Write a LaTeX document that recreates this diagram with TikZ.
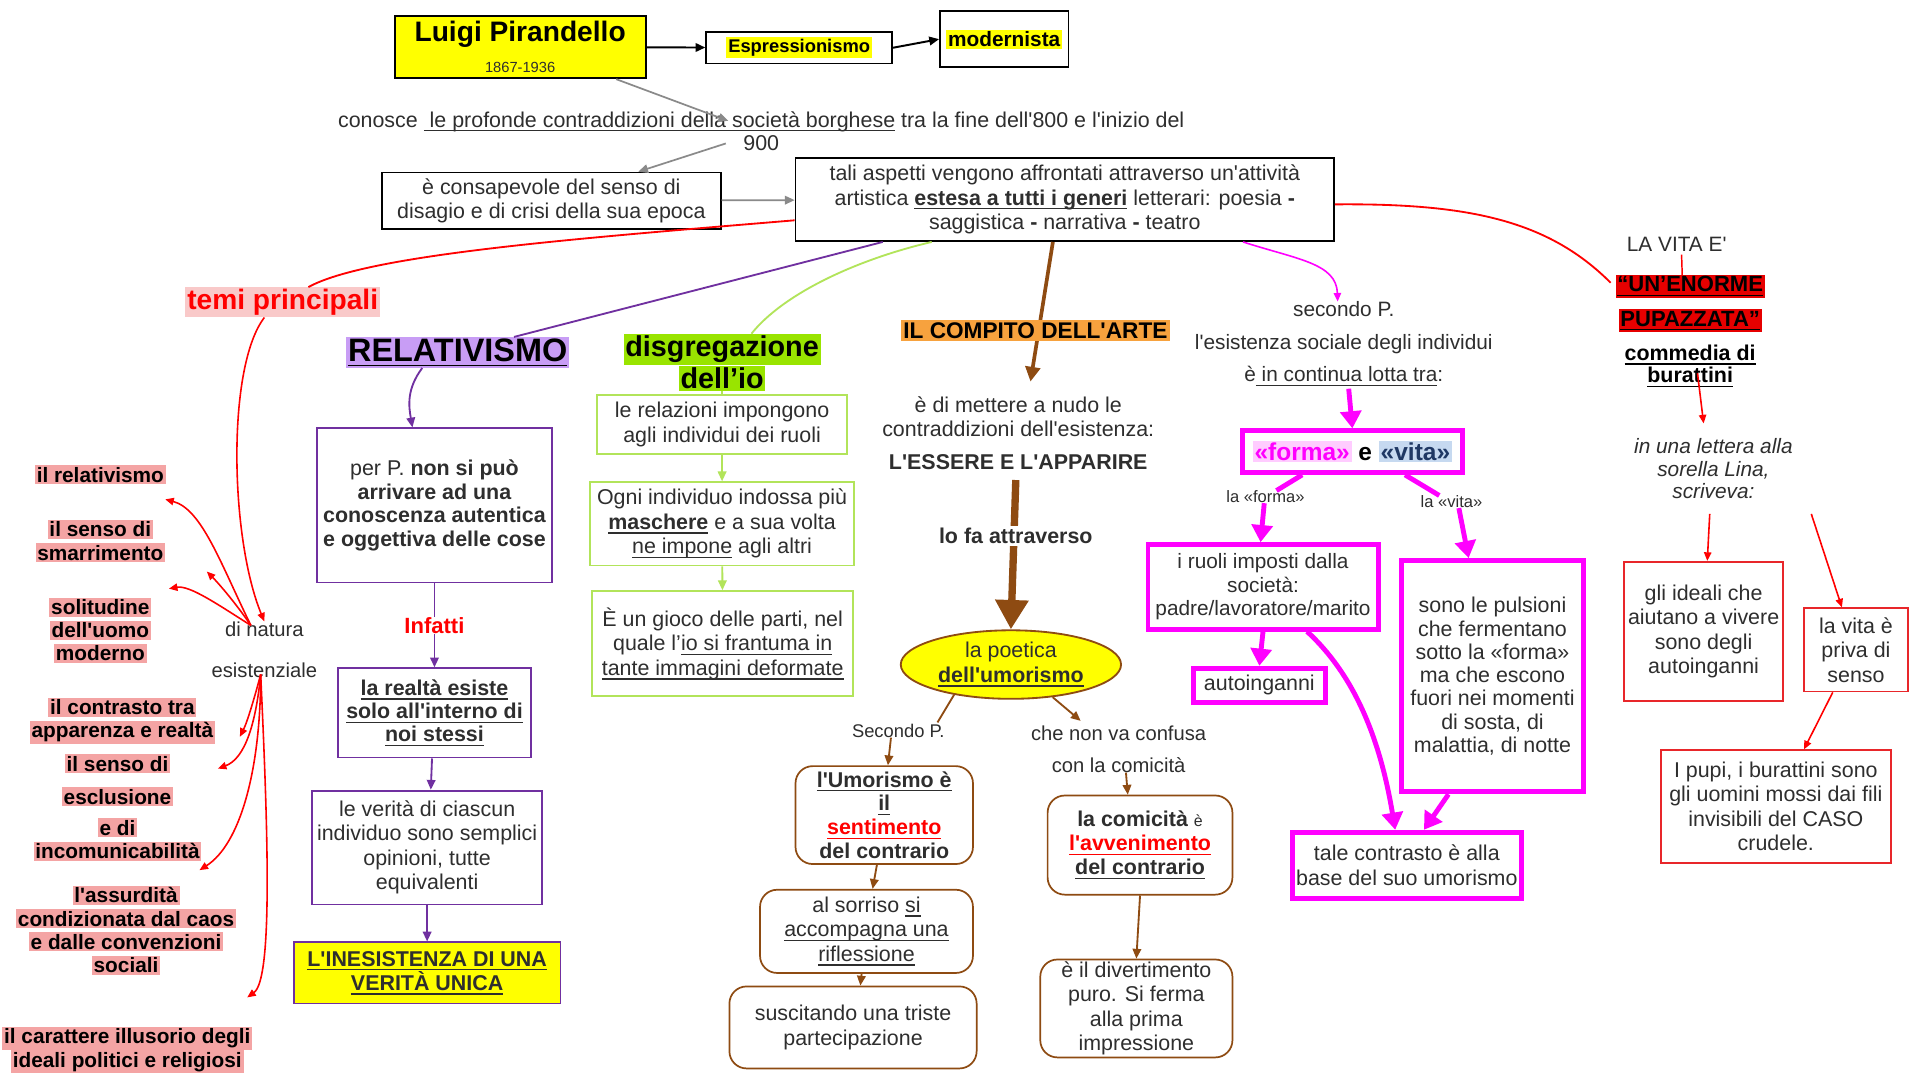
\documentclass[tikz,border=0pt]{standalone}
\usepackage{fontspec}
\setmainfont{Liberation Sans}[Ligatures=TeXOff]
\usetikzlibrary{arrows.meta,shapes.geometric,calc}
\definecolor{txt}{HTML}{2E2E2E}
\definecolor{gry}{HTML}{8A8A8A}
\definecolor{purp}{HTML}{7030A0}
\definecolor{lav}{HTML}{C89DF5}
\definecolor{lgreen}{HTML}{B2E45A}
\definecolor{dgreen}{HTML}{99E400}
\definecolor{orng}{HTML}{F7A23E}
\definecolor{brn}{HTML}{8E4B12}
\definecolor{mag}{HTML}{FF00FF}
\definecolor{fpink}{HTML}{FFCCFF}
\definecolor{vblue}{HTML}{C6D9F0}
\definecolor{navy}{HTML}{1F3864}
\definecolor{pkitem}{HTML}{F4A4A4}
\definecolor{pktemi}{HTML}{F9C9C9}
\definecolor{rd}{HTML}{FF0000}
\definecolor{rbox}{HTML}{E8262A}
\definecolor{enred}{HTML}{E60000}
\definecolor{yel}{HTML}{FFFF00}
\setlength{\fboxsep}{1.5pt}
\newcommand{\fsz}[2]{\fontsize{#1}{#2}\selectfont}
\newcommand{\pkh}[1]{\colorbox{pkitem}{#1}}
\newcommand{\uline}[1]{\leavevmode\setbox0\hbox{#1}\rlap{\vrule height -2.4pt depth 3.5pt width \wd0}\box0\relax}
\begin{document}
\begin{tikzpicture}[x=1pt,y=-1pt,
  every node/.style={text=txt, align=center, inner sep=0pt, font=\fsz{17.5}{20}},
  bbox/.style={draw=black, line width=1.4pt, fill=white},
  pbox/.style={draw=purp, line width=1.5pt, fill=white},
  gbox/.style={draw=lgreen, line width=1.5pt, fill=white},
  rbx/.style={draw=brn, line width=1.4pt, rounded corners=14pt, fill=white},
  mbox/.style={draw=mag, line width=4pt, fill=white},
  redbox/.style={draw=rbox, line width=1.4pt, fill=white},
  lit/.style={font=\fsz{17}{19}\bfseries, text=black},
  ga/.style={draw=gry, line width=1.4pt, -{Triangle[length=8pt,width=7pt]}},
  ka/.style={draw=black, line width=1.6pt, -{Triangle[length=8pt,width=7pt]}},
  ra/.style={draw=rd, line width=1.3pt, -{Triangle[length=7pt,width=6pt]}},
  rl/.style={draw=rd, line width=1.5pt},
  pa/.style={draw=purp, line width=1.5pt, -{Triangle[length=8pt,width=7pt]}},
  pl/.style={draw=purp, line width=1.5pt},
  gra/.style={draw=lgreen, line width=1.5pt, -{Triangle[length=8pt,width=7pt]}},
  ba/.style={draw=brn, line width=1.5pt, -{Triangle[length=8pt,width=7pt]}},
  ma/.style={draw=mag, line width=4pt, -{Triangle[length=14pt,width=17pt]}},
  mthin/.style={draw=mag, line width=1.3pt, -{Triangle[length=7pt,width=6pt]}}
]
\fill[white] (0,0) rectangle (1568,880);
\useasboundingbox (0,0) rectangle (1568,880);

% ---------- top ----------
\node[bbox, fill=yel, minimum width=205pt, minimum height=51pt] (lp) at (425.5,38.5) {};
\node[font=\fsz{23}{26}\bfseries, text=black] (lpt) at (425,28) {Luigi Pirandello};
\node[font=\fsz{12}{14}] (lpd) at (425,55) {1867-1936};
\node[bbox, minimum width=152pt, minimum height=26pt, font=\fsz{15}{17}\bfseries, text=black] (esp) at (653,39) {\colorbox{yel}{Espressionismo}};
\node[bbox, minimum width=105pt, minimum height=46pt, font=\fsz{17}{19}\bfseries, text=black] (mod) at (820.5,32) {\colorbox{yel}{modernista}};
\node[font=\fsz{17.5}{19}] (con) at (622,107) {conosce \uline{\ le profonde contraddizioni della società borghese} tra la fine dell'800 e l'inizio del\\900};
\node[bbox, minimum width=277pt, minimum height=46pt] (cons) at (450.5,164) {è consapevole del senso di\\disagio e di crisi della sua epoca};
\node[bbox, minimum width=440pt, minimum height=68pt] (big) at (870,163) {tali aspetti vengono affrontati attraverso un'attività\\artistica \textbf{\uline{estesa a tutti i generi}} letterari: poesia \textbf{-}\\saggistica \textbf{-} narrativa \textbf{-} teatro};

\draw[ka] (lp) -- (esp);
\draw[ka] (esp.east) -- (mod.west);
\draw[ga] ([xshift=78pt]lp.south) -- ($(con.north)+(-27,8)$);
\draw[ga] ($(con.south)+(-29,-6)$) -- ([xshift=71pt]cons.north);
\draw[ga] (cons) -- (big);

% ---------- left: temi principali ----------
\node[font=\fsz{23}{25}\bfseries, text=rd] (temi) at (231,247) {\colorbox{pktemi}{temi principali}};
\node[font=\fsz{16.5}{19}] (dinat) at (216,514) {di natura};
\node[font=\fsz{16.5}{19}] (esist) at (216,548) {esistenziale};
\draw[rl] ($(big.west)+(0,17)$) .. controls (470,195) and (300,208) .. ($(temi.north)+(21,0)$);
\draw[ra] ($(temi.south)+(-15,0)$) .. controls (185,300) and (188,440) .. (dinat.north);

\node[lit] (i1) at (82,388) {\pkh{il relativismo}};
\node[lit] (i2) at (82,442) {\pkh{il senso di}\\\pkh{smarrimento}};
\node[lit] (i3) at (82,515) {\pkh{solitudine}\\\pkh{dell'uomo}\\\pkh{moderno}};
\node[lit] (i4) at (100,589) {\pkh{il contrasto tra}\\\pkh{apparenza e realtà}};
\node[lit] (i5) at (96,624) {\pkh{il senso di}};
\node[lit] (i6) at (96,651) {\pkh{esclusione}};
\node[lit] (i7) at (96,686) {\pkh{e di}\\\pkh{incomunicabilità}};
\node[lit] (i8) at (103,760) {\pkh{l'assurdità}\\\pkh{condizionata dal caos}\\\pkh{e dalle convenzioni}\\\pkh{sociali}};
\node[lit] (i9) at (104,858) {\pkh{il carattere illusorio degli}\\\pkh{ideali politici e religiosi}};

\coordinate (o1) at (205,511);
\coordinate (o2) at (213,551);
\coordinate (t1) at (135,408);
\coordinate (t2) at (169,467);
\coordinate (t3) at (138,481);
\coordinate (t4) at (196,602);
\coordinate (t5) at (178,628);
\coordinate (t6) at (163,711);
\coordinate (t7) at (202,815);
\draw[ra] (o1) .. controls (180,460) and (165,416) .. (t1);
\draw[ra] (o1) .. controls (192,492) and (178,476) .. (t2);
\draw[ra] (o1) .. controls (178,494) and (155,478) .. (t3);
\draw[ra] (o2) .. controls (208,570) and (202,590) .. (t4);
\draw[ra] (o2) .. controls (209,592) and (200,620) .. (t5);
\draw[ra] (o2) .. controls (213,630) and (196,690) .. (t6);
\draw[ra] (o2) .. controls (219,680) and (223,800) .. (t7);

% ---------- RELATIVISMO ----------
\node[font=\fsz{26.5}{30}\bfseries, text=black] (relv) at (374,288) {\colorbox{lav}{\uline{RELATIVISMO}}};
\draw[pl] ($(big.south west)+(72,0)$) -- ($(relv.north)+(46,0)$);
\node[pbox, minimum width=192pt, minimum height=126pt, font=\fsz{17.5}{19.5}] (r1) at (355,413) {per P. \textbf{non si può}\\\textbf{arrivare ad una}\\\textbf{conoscenza autentica}\\\textbf{e oggettiva delle cose}};
\draw[pa] ($(relv.south)+(-29,0)$) .. controls (332,318) and (334,332) .. ($(r1.north)+(-18,0)$);
\node[font=\fsz{18}{20}\bfseries, text=rd] (inf) at (355,511) {Infatti};
\node[pbox, minimum width=158pt, minimum height=73pt, font=\fsz{17.5}{19}\bfseries] (r2) at (355,582.5) {\uline{la realtà esiste}\\\uline{solo all'interno di}\\\uline{noi stessi}};
\node[pbox, minimum width=188pt, minimum height=93pt] (r3) at (349,692.5) {le verità di ciascun\\individuo sono semplici\\opinioni, tutte\\equivalenti};
\node[pbox, fill=yel, minimum width=218pt, minimum height=50pt, font=\fsz{17.5}{19}\bfseries] (r4) at (349,795) {\uline{L'INESISTENZA DI UNA}\\\uline{VERITÀ UNICA}};
\draw[pl] (r1.south) -- (inf.north);
\draw[pa] (inf.south) -- (r2.north);
\draw[pa] ($(r2.south)+(-2,0)$) -- ($(r3.north)+(3,0)$);
\draw[pa] (r3.south) -- (r4.north);

% ---------- disgregazione ----------
\node[font=\fsz{23.5}{24.5}\bfseries, text=black] (dis) at (590,296) {\colorbox{dgreen}{disgregazione}\\\colorbox{dgreen}{dell’io}};
\draw[lgreen, line width=1.5pt] ($(big.south west)+(112,0)$) .. controls (700,212) and (640,240) .. ($(dis.north)+(24,0)$);
\node[gbox, minimum width=204pt, minimum height=48pt] (d1) at (590,347) {le relazioni impongono\\agli individui dei ruoli};
\node[gbox, minimum width=216pt, minimum height=68pt] (d2) at (590,428) {Ogni individuo indossa più\\\textbf{\uline{maschere}} e a sua volta\\\uline{ne impone} agli altri};
\node[gbox, minimum width=213pt, minimum height=86pt] (d3) at (590.5,526) {È un gioco delle parti, nel\\quale l’\uline{io si frantuma in}\\\uline{tante immagini deformate}};
\draw[lgreen, line width=1.5pt] (dis.south) -- (d1.north);
\draw[gra] (d1) -- (d2);
\draw[gra] (d2) -- (d3);

% ---------- compito dell'arte ----------
\node (ess) at (832,354) {è di mettere a nudo le\\contraddizioni dell'esistenza:\\[7pt]\textbf{L'ESSERE E L'APPARIRE}};
\draw[brn, line width=3pt, -{Triangle[length=12pt,width=12pt]}] ($(big.south west)+(211,0)$) -- ($(ess.north)+(10,-12)$);
\node[font=\fsz{18.5}{20}\bfseries, text=black, fill=orng, inner sep=2pt] (comp) at (846,270) {IL COMPITO DELL'ARTE};
\node[ellipse, draw=brn, line width=1.5pt, fill=yel, minimum width=180pt, minimum height=56pt, inner sep=0pt] (ell) at (826,543) {la poetica\\\textbf{\uline{dell'umorismo}}};
\draw[brn, line width=6pt, -{Triangle[length=24pt,width=26pt]}] ($(ess.south)+(-2,8)$) -- (ell.north);
\node[font=\fsz{17.5}{19}\bfseries, fill=white, inner sep=2pt] (lofa) at (830,438) {lo fa attraverso};

\node[font=\fsz{15}{17}] (sec2) at (734,597) {Secondo P.};
\draw[brn, line width=1.5pt] (ell.208) -- ($(sec2.north east)+(-6,-1)$);
\node[rbx, minimum width=145pt, minimum height=80pt, font=\fsz{17.5}{19.5}\bfseries] (A) at (722.5,666) {\uline{l'Umorismo è}\\\uline{il}\\\textcolor{rd}{\uline{sentimento}}\\del contrario};
\node[rbx, minimum width=174pt, minimum height=68pt] (B) at (708,761) {al sorriso \uline{si}\\\uline{accompagna una}\\\uline{riflessione}};
\node[rbx, minimum width=202pt, minimum height=67pt] (C) at (697,839.5) {suscitando una triste\\partecipazione};
\draw[ba] ($(sec2.south)+(-6,0)$) -- ($(A.north)+(3,0)$);
\draw[ba] ($(A.south)+(-6,0)$) -- ($(B.north)+(5,0)$);
\draw[ba] ($(B.south)+(-4,0)$) -- ($(C.north)+(6,0)$);

\node[font=\fsz{16.5}{26}] (conf) at (914,612) {che non va confusa\\con la comicità};
\coordinate (c1) at (883,589);
\draw[ba] (ell.322) -- (c1);
\node[rbx, minimum width=151pt, minimum height=81pt, font=\fsz{17.5}{19.5}\bfseries] (D) at (931.5,690.5) {la comicità {\fsz{13}{19}\mdseries è}\\\textcolor{rd}{\uline{l'avvenimento}}\\\uline{del contrario}};
\node[rbx, minimum width=157pt, minimum height=80pt] (E) at (928.5,824) {è il divertimento\\puro. Si ferma\\alla prima\\impressione};
\draw[ba] ($(conf.south)+(6,0)$) -- ($(D.north)+(-10,0)$);
\draw[ba] (D.south) -- (E.north);

% ---------- forma / vita ----------
\node[font=\fsz{17}{26.5}] (secP) at (1098,281) {secondo P.\\l'esistenza sociale degli individui\\è\uline{ in continua lotta tra}:};
\draw[mthin] ($(big.south east)+(-75,0)$) .. controls (1060,212) and (1092,215) .. ($(secP.north)+(-5,0)$);
\node[mbox, minimum width=180pt, minimum height=34pt, font=\fsz{20}{22}\bfseries, text=black] (fv) at (1105,369) {\colorbox{fpink}{\textcolor{mag}{«forma»}} e \colorbox{vblue}{\textcolor{navy}{«vita»}}};
\draw[ma] ($(secP.south)+(4,2)$) -- (fv.north);
\node[font=\fsz{13.5}{15}] (lf) at (1034,406) {la «forma»};
\node[font=\fsz{13.5}{15}] (lv) at (1186,410) {la «vita»};
\draw[mag, line width=4pt] ($(fv.south)+(-41,0)$) -- ($(lf.north)+(9,0)$);
\draw[mag, line width=4pt] ($(fv.south)+(43,0)$) -- ($(lv.north)+(-10,0)$);
\node[mbox, minimum width=188pt, minimum height=69pt, font=\fsz{17}{19}] (F) at (1032,479.5) {i ruoli imposti dalla\\società:\\padre/lavoratore/marito};
\node[mbox, minimum width=108pt, minimum height=28pt] (G) at (1029,560) {autoinganni};
\node[mbox, minimum width=149pt, minimum height=189pt, font=\fsz{17.5}{19}] (H) at (1219.5,552.5) {sono le pulsioni\\che fermentano\\sotto la «forma»\\ma che escono\\fuori nei momenti\\di sosta, di\\malattia, di notte};
\node[mbox, minimum width=187pt, minimum height=54pt] (I) at (1149.5,707) {tale contrasto è alla\\base del suo umorismo};
\draw[ma] ($(lf.south)+(-1,0)$) -- ($(F.north)+(-2,0)$);
\draw[ma] ($(lv.south)+(6,0)$) -- ($(H.north)+(-19.5,0)$);
\draw[ma] (F.south) -- (G.north);
\draw[ma] ($(F.south)+(36,0)$) .. controls (1105,550) and (1127,600) .. ($(I.north)+(-9.5,0)$);
\draw[ma] ($(H.south)+(-36,0)$) -- ($(I.north)+(14,0)$);

% ---------- right ----------
\node[font=\fsz{17}{19}] (lavita) at (1370,200) {LA VITA E'};
\coordinate (en0) at (1316,231);
\draw[rl] ($(big.east)+(0,4)$) .. controls (1200,166) and (1265,180) .. (en0);
\coordinate (ent) at (1375,240);
\draw[rd, line width=1.2pt] ($(lavita.south)+(4,2)$) -- (ent);
\node[font=\fsz{18}{20}\bfseries, text=black] (en1) at (1381,234) {\colorbox{enred}{\uline{“UN’ENORME}}};
\node[font=\fsz{18}{20}\bfseries, text=black] (en2) at (1381,262) {\colorbox{enred}{\uline{PUPAZZATA”}}};
\node[font=\fsz{17.5}{18.5}\bfseries, text=black] (comm) at (1381,299) {\uline{commedia di}\\\uline{burattini}};
\node[font=\fsz{17}{18.5}\itshape] (lett) at (1400,383) {in una lettera alla\\sorella Lina,\\scriveva:};
\coordinate (t8) at (1392,346);
\draw[ra] ($(comm.center)+(6,6)$) -- (t8);
\node[redbox, minimum width=130pt, minimum height=114pt] (J) at (1392,516) {gli ideali che\\aiutano a vivere\\sono degli\\autoinganni};
\node[redbox, minimum width=85pt, minimum height=68pt] (K) at (1516.5,531) {la vita è\\priva di\\senso};
\node[redbox, minimum width=188pt, minimum height=92pt] (L) at (1451,659) {I pupi, i burattini sono\\gli uomini mossi dai fili\\invisibili del CASO\\crudele.};
\draw[ra] ($(lett.south)+(-3,12)$) -- ($(J.north)+(3,0)$);
\draw[ra] ($(lett.south)+(80,12)$) -- ($(K.north)+(-11.5,0)$);
\draw[ra] ($(K.south)+(-19,0)$) -- ($(L.north)+(23,0)$);
\end{tikzpicture}
\end{document}
